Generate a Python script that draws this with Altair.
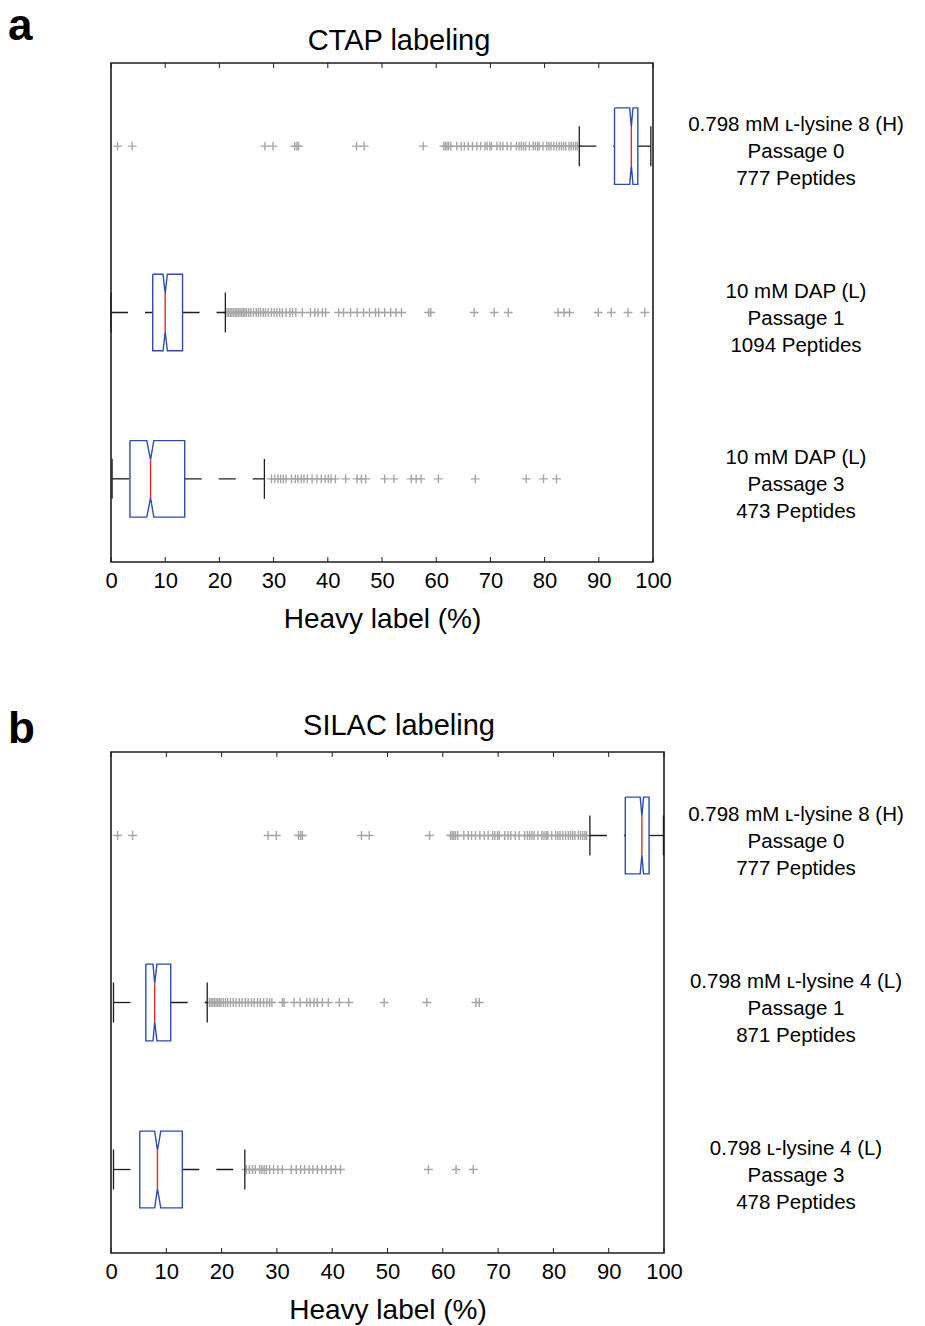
import altair as alt
import pandas as pd

# ---------------- data ----------------
ROW_POS = [3, 2, 1]                       # top, middle, bottom group
X_TICKS = [0, 10, 20, 30, 40, 50, 60, 70, 80, 90, 100]

# Panel a : CTAP labeling
A_LABELS = ["0.798 mM ʟ-lysine 8 (H)\nPassage 0\n777 Peptides",
            "10 mM DAP (L)\nPassage 1\n1094 Peptides",
            "10 mM DAP (L)\nPassage 3\n473 Peptides"]
A_CAP_LO = [86.4, 0.0, 0.2]
A_Q1 = [92.9, 7.7, 3.5]
A_NOTCH_LO = [95.7, 9.6, 6.6]
A_MEDIAN = [96.0, 10.0, 7.3]
A_NOTCH_HI = [96.3, 10.4, 7.9]
A_Q3 = [97.2, 13.2, 13.6]
A_CAP_HI = [99.6, 21.1, 28.3]

OUT_H_P0 = [1.2, 3.9, 28.4, 29.9, 33.9, 34.3, 34.6, 45.3, 46.7, 57.6,
            61.4, 61.7, 62.0, 62.3, 62.7, 63.8, 64.6, 65.2, 65.9, 66.7,
            67.5, 68.2, 69.0, 69.4, 69.9, 70.2, 71.2, 71.8, 72.3, 73.1,
            73.8, 74.8, 75.3, 75.7, 76.1, 76.5, 77.2, 77.9, 78.3, 78.7,
            79.0, 79.7, 80.4, 80.8, 81.2, 81.7, 82.2, 82.7, 83.1, 83.5,
            83.9, 84.5, 84.9, 85.3, 85.7, 86.0]
OUT_DAP_P1 = [21.4, 21.7, 22.0, 22.3, 22.6, 22.9, 23.2, 23.5, 23.8, 24.1,
              24.4, 24.7, 25.0, 25.4, 25.8, 26.3, 26.8, 27.2, 27.6, 28.1,
              28.5, 29.0, 29.6, 30.1, 30.6, 31.1, 31.6, 32.3, 33.0, 33.5,
              34.1, 35.3, 36.8, 37.6, 38.2, 39.0, 39.6, 42.0, 42.9, 44.2,
              45.4, 46.6, 47.7, 48.8, 49.4, 50.5, 51.6, 52.6, 53.6, 58.6,
              59.0, 67.0, 70.7, 73.3, 82.5, 83.6, 84.6, 89.9, 92.3, 95.4,
              98.5]
OUT_DAP_P3 = [29.6, 30.2, 30.8, 31.3, 31.8, 32.3, 33.3, 34.0, 34.5, 35.1,
              35.6, 36.2, 37.1, 38.0, 38.8, 39.5, 40.1, 40.6, 41.4, 43.3,
              45.4, 46.2, 47.0, 50.5, 52.2, 55.4, 56.3, 57.2, 60.4, 67.2,
              76.6, 79.8, 82.2]

# Panel b : SILAC labeling
B_LABELS = ["0.798 mM ʟ-lysine 8 (H)\nPassage 0\n777 Peptides",
            "0.798 mM ʟ-lysine 4 (L)\nPassage 1\n871 Peptides",
            "0.798 ʟ-lysine 4 (L)\nPassage 3\n478 Peptides"]
B_CAP_LO = [86.6, 0.45, 0.45]
B_Q1 = [93.0, 6.3, 5.2]
B_NOTCH_LO = [95.7, 7.6, 7.9]
B_MEDIAN = [96.0, 7.9, 8.4]
B_NOTCH_HI = [96.3, 8.3, 9.0]
B_Q3 = [97.3, 10.8, 12.9]
B_CAP_HI = [99.9, 17.4, 24.2]

OUT_L4_P1 = [17.8, 18.1, 18.4, 18.7, 19.0, 19.3, 19.6, 19.9, 20.3, 20.7,
             21.1, 21.6, 22.1, 22.6, 23.2, 23.7, 24.3, 24.8, 25.4, 25.9,
             26.5, 27.0, 27.6, 28.2, 28.7, 29.1, 31.0, 31.3, 33.1, 34.2,
             35.4, 36.0, 36.7, 37.3, 38.2, 39.3, 41.3, 43.0, 49.4, 57.1,
             66.0, 66.6]
OUT_L4_P3 = [24.5, 25.0, 25.6, 26.1, 26.9, 27.3, 27.7, 28.1, 28.7, 29.4,
             30.2, 31.0, 32.6, 33.5, 34.3, 35.0, 35.8, 36.5, 37.3, 38.1,
             38.9, 39.8, 40.6, 41.5, 57.4, 62.4, 65.5]

# ---------------- styling ----------------
BOX_HALF = 0.23
CAP_HALF = 0.12
BLUE = "#2D4DA8"
RED = "#E8252A"
GREY = "#A6A6A6"
INK = "#1E1E1E"
FONT = "Liberation Sans"
PLUS = "M-1,0L1,0M0,-1L0,1"


def panel(labels, cap_lo, q1, nlo, med, nhi, q3, cap_hi, outliers,
          width, height, title, letter, title_y, letter_y):
    xs = alt.Scale(domain=[0, 100], nice=False, zero=False)
    ys = alt.Scale(domain=[0.5, 3.5], nice=False, zero=False)
    xax = alt.Axis(values=X_TICKS, title="Heavy label (%)", grid=False,
                   ticks=False, tickSize=0, domain=False, labelFontSize=22,
                   titleFontSize=28, labelPadding=8, titlePadding=14,
                   labelColor="black", titleColor="black",
                   titleFontWeight="normal", labelFlush=False, format="d")
    X = lambda f="x": alt.X(f"{f}:Q", scale=xs, axis=xax)
    Y = lambda f="y": alt.Y(f"{f}:Q", scale=ys, axis=None)

    out_rows, poly, medr, whisk, caps, lab = [], [], [], [], [], []
    for i, r in enumerate(ROW_POS):
        for v in outliers[i]:
            out_rows.append({"x": v, "y": r})
        h = BOX_HALF
        verts = [(q1[i], r + h), (nlo[i], r + h), (med[i], r + h / 2),
                 (nhi[i], r + h), (q3[i], r + h), (q3[i], r - h),
                 (nhi[i], r - h), (med[i], r - h / 2), (nlo[i], r - h),
                 (q1[i], r - h), (q1[i], r + h)]
        for k, (vx, vy) in enumerate(verts):
            poly.append({"x": vx, "y": vy, "o": k, "g": i})
        medr.append({"x": med[i], "y": r - h / 2, "y2": r + h / 2})
        whisk.append({"x": cap_lo[i], "x2": q1[i], "y": r})
        whisk.append({"x": q3[i], "x2": cap_hi[i], "y": r})
        caps.append({"x": cap_lo[i], "y": r - CAP_HALF, "y2": r + CAP_HALF})
        caps.append({"x": cap_hi[i], "y": r - CAP_HALF, "y2": r + CAP_HALF})
        lab.append({"y": r, "t": labels[i]})

    tick_df = pd.DataFrame({"x": X_TICKS})

    layers = [
        alt.Chart(pd.DataFrame(out_rows)).mark_point(
            shape=PLUS, size=78, stroke=GREY, strokeWidth=1.4, filled=False,
            opacity=1).encode(x=X(), y=Y()),
        alt.Chart(pd.DataFrame(whisk)).mark_rule(
            color=INK, strokeWidth=1.3, strokeDash=[17, 17]).encode(
            x=X(), x2="x2:Q", y=Y()),
        alt.Chart(pd.DataFrame(caps)).mark_rule(
            color=INK, strokeWidth=1.3).encode(x=X(), y=Y(), y2="y2:Q"),
        alt.Chart(pd.DataFrame(poly)).mark_line(
            color=BLUE, strokeWidth=1.4).encode(
            x=X(), y=Y(), order="o:Q", detail="g:N"),
        alt.Chart(pd.DataFrame(medr)).mark_rule(
            color=RED, strokeWidth=1.4).encode(x=X(), y=Y(), y2="y2:Q"),
        alt.Chart(tick_df).mark_rule(color=INK, strokeWidth=1).encode(
            x=X(), y=alt.value(0), y2=alt.value(5)),
        alt.Chart(tick_df).mark_rule(color=INK, strokeWidth=1).encode(
            x=X(), y=alt.value(height - 5), y2=alt.value(height)),
        alt.Chart(pd.DataFrame(lab)).mark_text(
            align="center", baseline="middle", fontSize=20.5, lineHeight=27,
            lineBreak="\n", dy=-21, color="black", font=FONT).encode(
            x=alt.value(685), y=Y(), text="t:N"),
        alt.Chart(pd.DataFrame({"t": [title]})).mark_text(
            align="center", baseline="alphabetic", fontSize=29,
            color="black", font=FONT).encode(
            x=alt.value(288), y=alt.value(title_y), text="t:N"),
        alt.Chart(pd.DataFrame({"t": [letter]})).mark_text(
            align="left", baseline="alphabetic", fontSize=44,
            fontWeight="bold", color="black", font=FONT).encode(
            x=alt.value(-103), y=alt.value(letter_y), text="t:N"),
    ]
    return alt.layer(*layers).properties(width=width, height=height)


pa = panel(A_LABELS, A_CAP_LO, A_Q1, A_NOTCH_LO, A_MEDIAN, A_NOTCH_HI, A_Q3,
           A_CAP_HI, [OUT_H_P0, OUT_DAP_P1, OUT_DAP_P3], 542, 499,
           "CTAP labeling", "a", -13, -23)
pb = panel(B_LABELS, B_CAP_LO, B_Q1, B_NOTCH_LO, B_MEDIAN, B_NOTCH_HI, B_Q3,
           B_CAP_HI, [OUT_H_P0, OUT_L4_P1, OUT_L4_P3], 553, 501,
           "SILAC labeling", "b", -17, -9)

chart = alt.vconcat(pa, pb, spacing=73).properties(
    padding={"left": 7, "top": 4, "right": 0, "bottom": 0}
).configure(font=FONT).configure_view(stroke=INK, strokeWidth=1.6)

chart.save("out.html", embed_options={"renderer": "svg", "actions": False})
